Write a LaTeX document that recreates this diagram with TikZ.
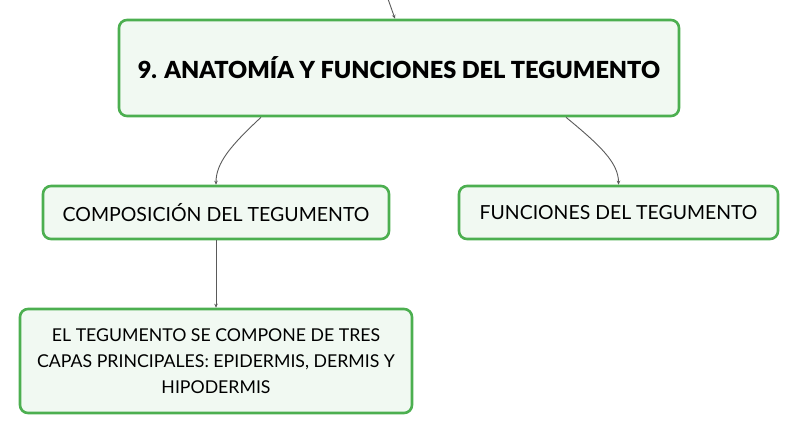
\documentclass[tikz,border=0pt]{standalone}
\usepackage{fontspec}
\setmainfont{Lato}
\newfontface\titlefont{Lato Black}
\usetikzlibrary{arrows.meta,calc}
\definecolor{boxgreen}{HTML}{4CAF50}
\definecolor{boxfill}{HTML}{F1F9F2}
\definecolor{linkgray}{HTML}{5A5A5A}
\begin{document}
\begin{tikzpicture}[x=1pt,y=-1pt,
  topic/.style={draw=boxgreen,line width=2.6pt,fill=boxfill,rounded corners=8pt,align=center,inner sep=0pt},
  link/.style={draw=linkgray,line width=0.9pt,-{Stealth[length=4pt,width=3.5pt]}}]
\useasboundingbox (0,0) rectangle (799,436);
\node[topic,minimum width=560pt,minimum height=96pt,font=\fontsize{23.5}{28}\selectfont\titlefont] (main) at (399,68) {9. ANATOMÍA Y FUNCIONES DEL TEGUMENTO};
\node[topic,minimum width=346pt,minimum height=53pt,font=\fontsize{19.5}{23}\selectfont] (comp) at (216,212.5) {COMPOSICIÓN DEL TEGUMENTO};
\node[topic,minimum width=319pt,minimum height=53pt,font=\fontsize{19.4}{23}\selectfont] (func) at (618.5,212.5) {FUNCIONES DEL TEGUMENTO};
\node[topic,minimum width=392pt,minimum height=104pt,font=\fontsize{17.7}{26}\selectfont] (capas) at (216,361) {EL TEGUMENTO SE COMPONE DE TRES\\CAPAS PRINCIPALES: EPIDERMIS, DERMIS Y\\HIPODERMIS};
\coordinate (parent) at (388,-1);
\draw[link] (parent) -- ([xshift=-4pt]main.north);
\draw[link] ([xshift=-138pt]main.south) .. controls +(-30,28) and +(0,-22) .. (comp.north);
\draw[link] ([xshift=167pt]main.south) .. controls +(34,28) and +(0,-22) .. (func.north);
\draw[link] (comp.south) -- (capas.north);
\end{tikzpicture}
\end{document}
